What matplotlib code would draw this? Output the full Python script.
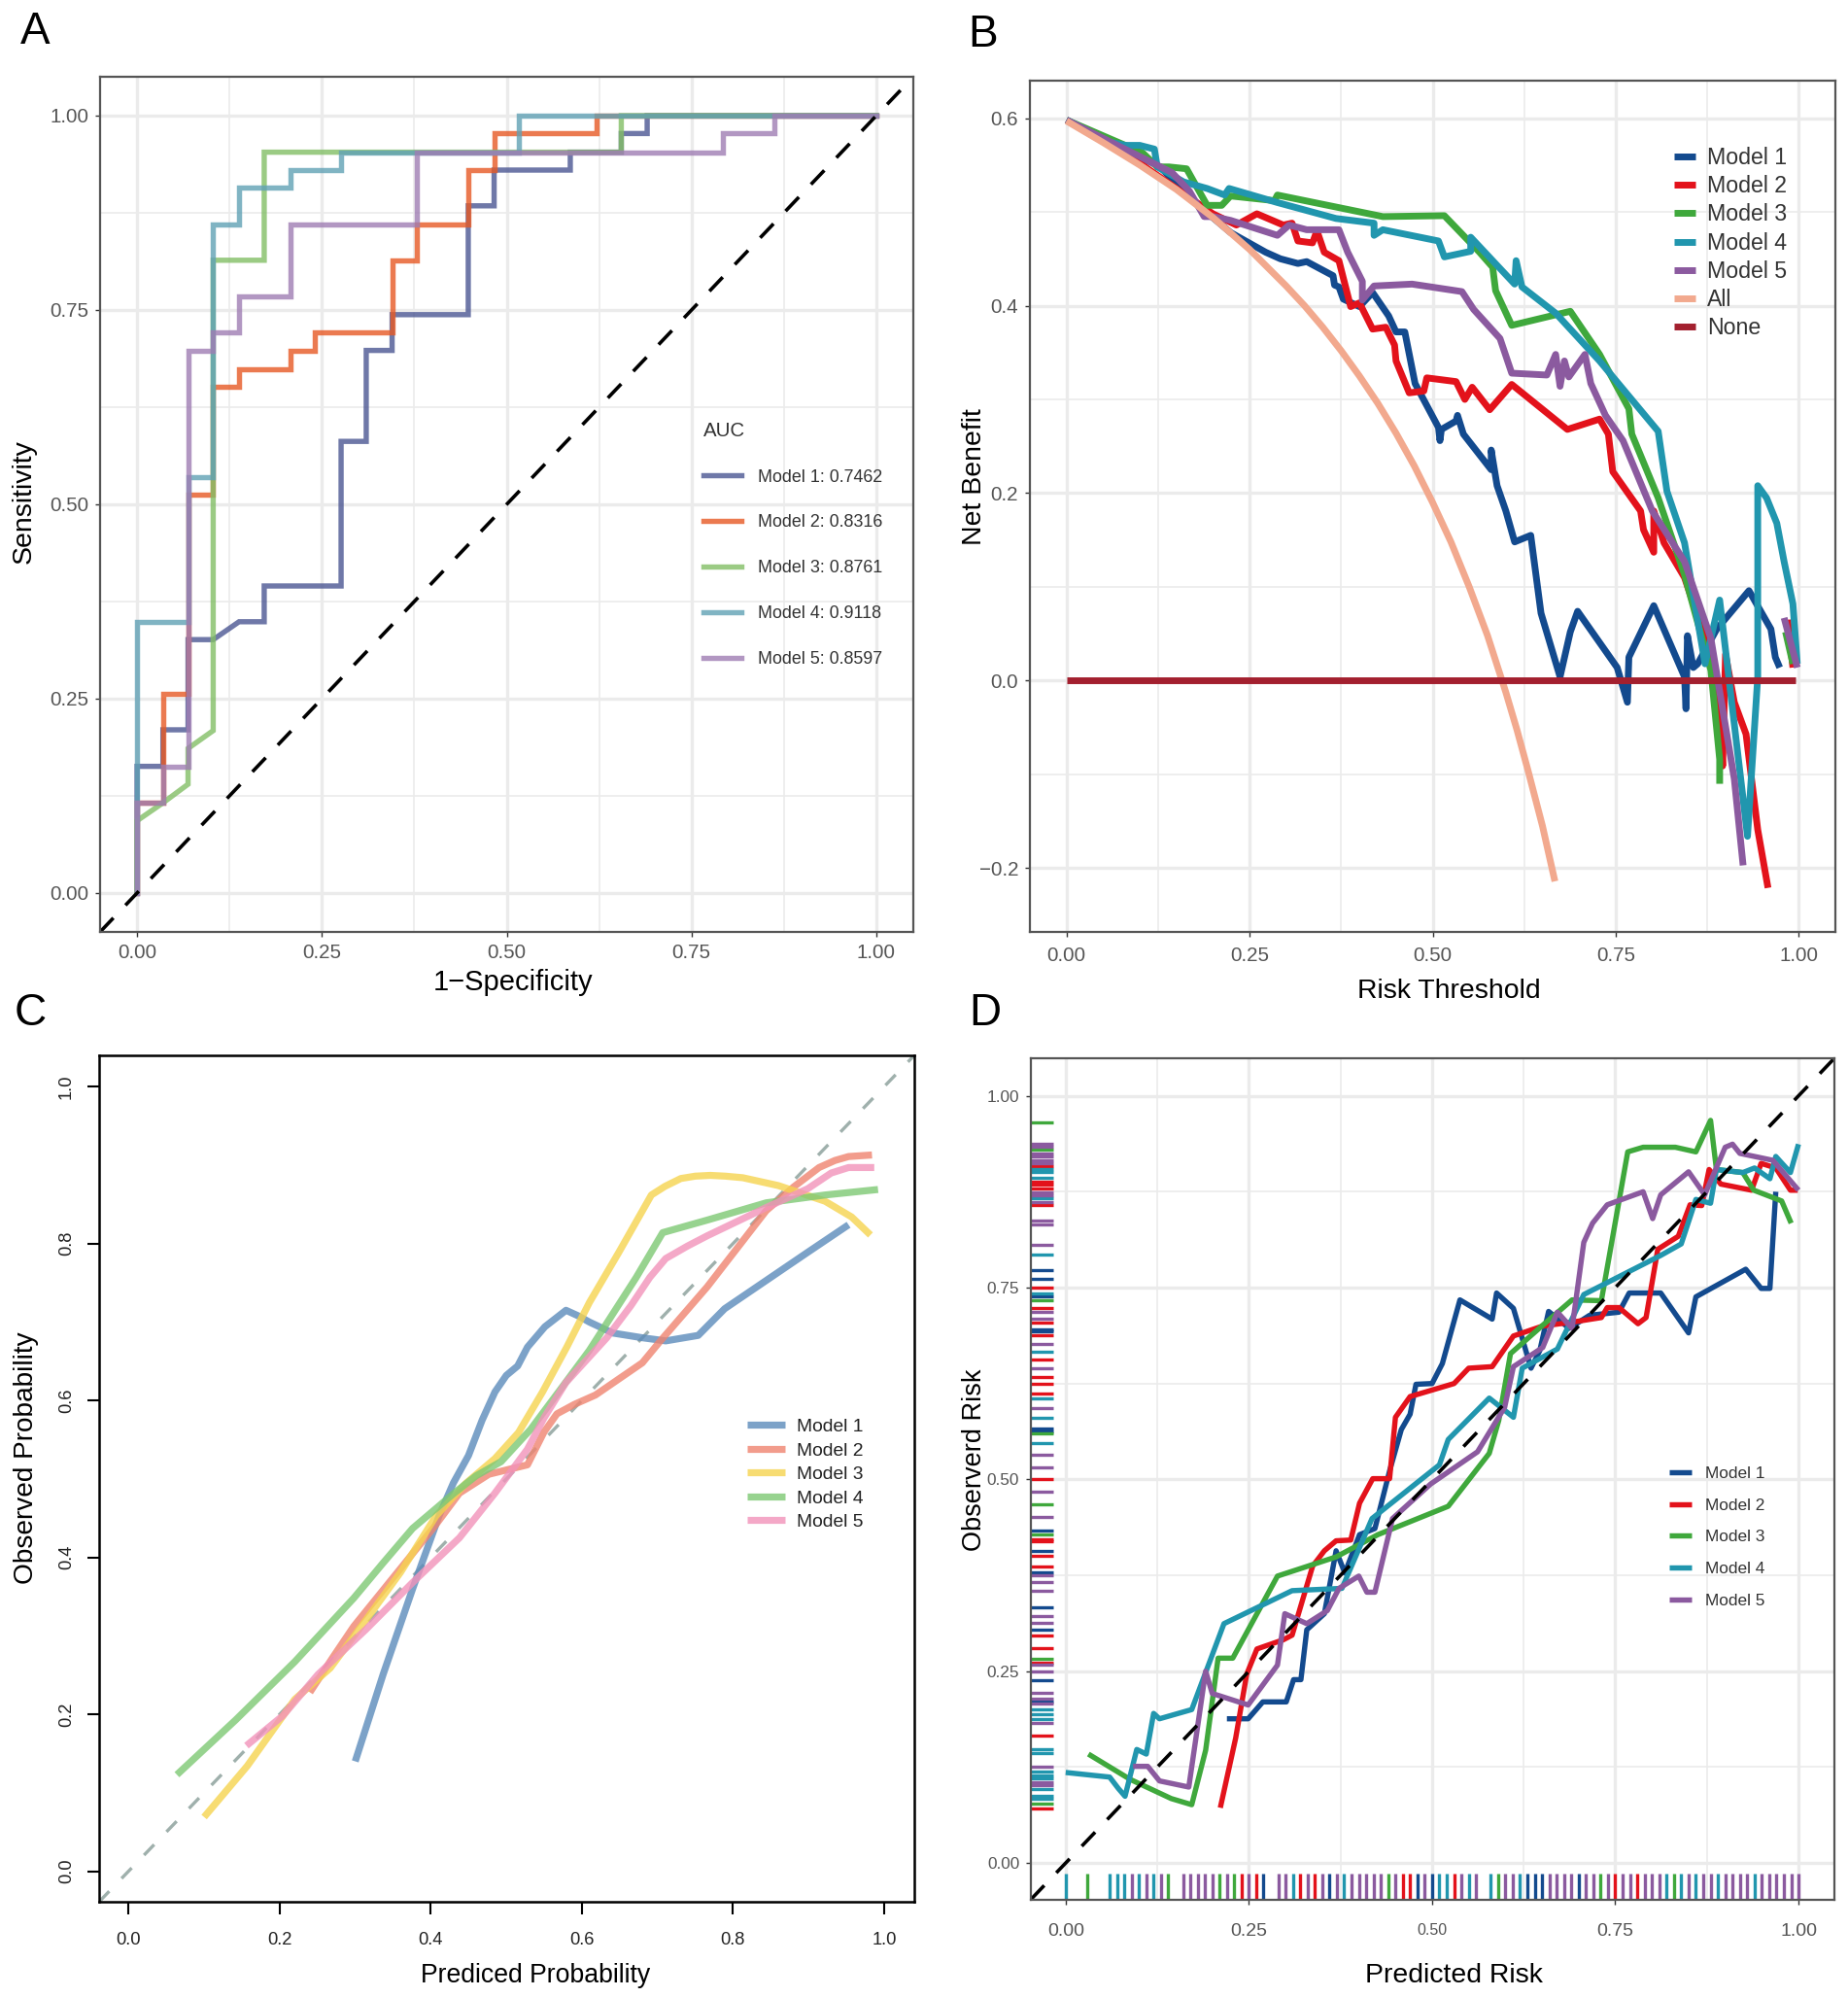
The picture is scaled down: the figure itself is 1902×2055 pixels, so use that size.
import numpy as np
import matplotlib
matplotlib.use("Agg")
import matplotlib.pyplot as plt
from matplotlib.ticker import FixedLocator

plt.rcParams['font.family'] = ['Liberation Sans', 'DejaVu Sans']

W, H = 1902, 2055
nan = float('nan')
models = ["Model 1", "Model 2", "Model 3", "Model 4", "Model 5"]

# panel A, ROC
roc_m1_x = [0, 0, 0.035, 0.035, 0.069, 0.069, 0.103, 0.138, 0.172, 0.172, 0.276, 0.276, 0.31, 0.31, 0.345, 0.345, 0.448, 0.448, 0.483, 0.483, 0.586, 0.586, 0.655, 0.655, 0.69, 0.69, 1]
roc_m1_y = [0, 0.163, 0.163, 0.21, 0.21, 0.326, 0.326, 0.349, 0.349, 0.395, 0.395, 0.581, 0.581, 0.698, 0.698, 0.744, 0.744, 0.884, 0.884, 0.93, 0.93, 0.953, 0.953, 0.977, 0.977, 1, 1]
roc_m2_x = [0, 0, 0.035, 0.035, 0.069, 0.069, 0.103, 0.103, 0.138, 0.138, 0.207, 0.207, 0.241, 0.241, 0.345, 0.345, 0.379, 0.379, 0.448, 0.448, 0.483, 0.483, 0.621, 0.621, 1]
roc_m2_y = [0, 0.116, 0.116, 0.256, 0.256, 0.512, 0.512, 0.651, 0.651, 0.674, 0.674, 0.698, 0.698, 0.721, 0.721, 0.814, 0.814, 0.86, 0.86, 0.93, 0.93, 0.977, 0.977, 1, 1]
roc_m3_x = [0, 0, 0.035, 0.069, 0.069, 0.103, 0.103, 0.172, 0.172, 0.655, 0.655, 1]
roc_m3_y = [0, 0.093, 0.116, 0.14, 0.186, 0.209, 0.814, 0.814, 0.953, 0.953, 1, 1]
roc_m4_x = [0, 0, 0.069, 0.069, 0.103, 0.103, 0.138, 0.138, 0.207, 0.207, 0.276, 0.276, 0.517, 0.517, 1]
roc_m4_y = [0, 0.349, 0.349, 0.535, 0.535, 0.86, 0.86, 0.907, 0.907, 0.93, 0.93, 0.953, 0.953, 1, 1]
roc_m5_x = [0, 0, 0.035, 0.035, 0.069, 0.069, 0.103, 0.103, 0.138, 0.138, 0.207, 0.207, 0.379, 0.379, 0.793, 0.793, 0.862, 0.862, 1]
roc_m5_y = [0, 0.116, 0.116, 0.163, 0.163, 0.698, 0.698, 0.721, 0.721, 0.767, 0.767, 0.86, 0.86, 0.953, 0.953, 0.977, 0.977, 1, 1]
auc = ["0.7462", "0.8316", "0.8761", "0.9118", "0.8597"]

# panel B, decision curve
dca_m1_x = [0, .128, .168, .224, .272, .292, .316, .328, .364, .366, .372, .378, .40, .418, .44, .45, .462, .476, .508, .51, .512, .532, .534, .542, .58, .58, .588, .60, .612, .634, .648, .674, .688, .698, .752, .766, .768, .802, .844, .846, .848, .856, .862, .888, .932, .962, .968, .974]
dca_m1_y = [.598, .548, .515, .478, .457, .45, .445, .447, .432, .422, .42, .407, .399, .414, .389, .372, .372, .317, .27, .256, .268, .277, .283, .263, .225, .246, .208, .181, .148, .155, .072, .004, .052, .074, .014, -.023, .025, .08, .004, -.03, .048, .014, .018, .055, .096, .055, .025, .014]
dca_m2_x = [0, .10, .20, .232, .26, .296, .308, .316, .336, .342, .352, .372, .388, .40, .418, .436, .448, .45, .468, .488, .492, .532, .544, .554, .578, .608, .684, .728, .74, .746, .784, .788, .802, .802, .816, .844, .872, .892, .896, .90, .912, .928, .944, .958, nan, .985, .992]
dca_m2_y = [.598, .552, .498, .486, .498, .486, .488, .469, .467, .48, .457, .448, .399, .403, .375, .377, .358, .341, .307, .309, .323, .319, .30, .313, .289, .316, .268, .279, .263, .223, .181, .161, .137, .181, .147, .11, .045, -.023, -.091, .028, -.023, -.057, -.159, -.221, nan, .065, .014]
dca_m3_x = [0, .104, .124, .14, .164, .192, .212, .224, .284, .288, .432, .516, .564, .582, .586, .608, .688, .728, .768, .772, .808, .844, .88, .892, .892, nan, .982, .992]
dca_m3_y = [.598, .563, .548, .548, .546, .507, .507, .517, .512, .518, .495, .496, .457, .441, .416, .379, .394, .348, .29, .263, .195, .113, .011, -.084, -.11, nan, .052, .018]
dca_m4_x = [0, .056, .08, .10, .12, .124, .16, .192, .216, .222, .288, .368, .42, .42, .432, .508, .516, .552, .552, .612, .614, .622, .668, .728, .808, .82, .844, .872, .892, .93, .944, .944, .956, .97, .98, .992, .998]
dca_m4_y = [.598, .575, .571, .571, .567, .548, .532, .525, .518, .525, .51, .493, .488, .475, .481, .469, .452, .458, .473, .423, .448, .42, .392, .341, .266, .202, .147, .018, .086, -.166, .004, .208, .195, .168, .127, .082, .018]
dca_m5_x = [0, .144, .168, .188, .20, .224, .288, .304, .328, .372, .384, .404, .404, .42, .472, .54, .556, .592, .608, .656, .668, .674, .68, .686, .708, .716, .736, .76, .80, .844, .88, .912, .924, nan, .98, .998]
dca_m5_y = [.598, .542, .522, .495, .495, .491, .475, .486, .481, .481, .457, .426, .406, .421, .423, .415, .396, .365, .328, .326, .348, .314, .341, .324, .348, .317, .283, .256, .181, .127, .045, -.105, -.197, nan, .067, .014]
dca_all_x = [0, .05, .10, .15, .20, .25, .30, .325, .35, .375, .40, .425, .45, .475, .50, .525, .55, .575, .60, .615, .63, .65, .667]
dca_all_y = [.597, .574, .55, .524, .494, .46, .421, .40, .377, .352, .325, .296, .264, .229, .19, .148, .10, .048, -.0125, -.052, -.095, -.155, -.214]
dca_none_x = [0, .996]
dca_none_y = [0, 0]

# panel C, smooth calibration
cal_m1_x = [.30, .337, .376, .411, .43, .45, .468, .485, .50, .515, .528, .551, .579, .595, .61, .641, .68, .711, .754, .789, .844, .899, .953]
cal_m1_y = [.14, .251, .36, .453, .495, .53, .575, .611, .632, .644, .668, .694, .715, .708, .70, .686, .68, .676, .683, .717, .753, .789, .824]
cal_m2_x = [.24, .27, .298, .345, .403, .438, .477, .528, .55, .567, .59, .618, .68, .704, .766, .844, .88, .914, .935, .953, .984]
cal_m2_y = [.228, .272, .312, .368, .437, .482, .506, .518, .56, .583, .595, .607, .648, .676, .745, .842, .872, .897, .906, .911, .913]
cal_m3_x = [.10, .157, .22, .267, .314, .36, .407, .446, .485, .516, .548, .58, .61, .649, .692, .71, .731, .75, .77, .79, .813, .86, .922, .957, .982]
cal_m3_y = [.069, .134, .219, .259, .32, .381, .453, .494, .526, .559, .611, .668, .725, .789, .862, .873, .883, .886, .887, .886, .884, .874, .854, .834, .811]
cal_m4_x = [.064, .142, .22, .298, .337, .376, .431, .46, .493, .532, .57, .61, .672, .707, .766, .844, .922, .992]
cal_m4_y = [.123, .193, .267, .348, .393, .437, .482, .504, .522, .563, .612, .664, .757, .814, .83, .852, .862, .869]
cal_m5_x = [.156, .204, .251, .314, .376, .438, .485, .528, .55, .579, .633, .665, .69, .711, .74, .766, .844, .899, .93, .953, .987]
cal_m5_y = [.16, .198, .251, .308, .368, .425, .482, .538, .578, .623, .68, .721, .757, .781, .797, .81, .846, .87, .89, .897, .897]

# panel D, binned calibration
risk_m1_x = [.22, .249, .269, .301, .311, .321, .329, .353, .369, .381, .401, .422, .442, .458, .47, .478, .50, .514, .538, .582, .588, .611, .635, .647, .659, .687, .715, .755, .769, .812, .85, .86, .928, .949, .961, .969]
risk_m1_y = [.188, .188, .21, .21, .239, .239, .304, .325, .407, .378, .428, .436, .511, .565, .585, .624, .625, .651, .734, .709, .743, .723, .645, .668, .719, .697, .714, .718, .743, .743, .691, .738, .774, .749, .749, .875]
risk_m2_x = [.211, .232, .247, .261, .297, .309, .337, .353, .369, .389, .401, .419, .442, .45, .47, .53, .55, .582, .611, .651, .691, .731, .739, .755, .781, .792, .808, .836, .852, .868, .878, .894, .936, .949, .969, .989, .999]
risk_m2_y = [.072, .163, .246, .279, .291, .297, .387, .407, .42, .421, .469, .501, .501, .581, .608, .625, .645, .647, .687, .70, .705, .711, .724, .724, .703, .711, .80, .817, .858, .857, .904, .885, .877, .912, .906, .877, .877]
risk_m3_x = [.031, .088, .144, .172, .191, .208, .228, .289, .369, .426, .522, .578, .591, .607, .651, .691, .731, .767, .788, .832, .86, .88, .888, .924, .939, .977, .99]
risk_m3_y = [.142, .109, .084, .076, .147, .267, .267, .374, .399, .428, .465, .534, .577, .664, .701, .734, .733, .927, .933, .933, .927, .968, .904, .90, .877, .863, .834]
risk_m4_x = [0, .06, .072, .081, .097, .11, .12, .128, .172, .216, .309, .377, .418, .51, .522, .578, .611, .623, .671, .707, .812, .84, .86, .88, .888, .924, .94, .961, .969, .989, 1.0]
risk_m4_y = [.118, .112, .097, .087, .148, .142, .195, .188, .20, .312, .355, .358, .449, .519, .552, .606, .581, .645, .67, .741, .792, .807, .865, .86, .904, .90, .906, .892, .921, .90, .937]
risk_m5_x = [.092, .112, .128, .168, .191, .20, .249, .289, .299, .329, .357, .373, .40, .411, .422, .446, .498, .562, .599, .611, .651, .671, .691, .707, .719, .739, .788, .801, .812, .85, .872, .90, .91, .92, .965, 1.0]
risk_m5_y = [.126, .126, .107, .099, .25, .221, .206, .258, .325, .312, .329, .358, .374, .353, .353, .449, .494, .536, .594, .647, .672, .718, .697, .809, .834, .858, .875, .84, .871, .901, .871, .933, .937, .925, .916, .877]

# rugs along the bottom of panel D
rug_x_m1 = [.27, .36, .48, .50, .63, .64, .65, .70]
rug_x_m2 = [.24, .26, .32, .34, .46, .47, .53, .75, .78]
rug_x_m3 = [.03, .14, .21, .23, .44, .59, .73, .83]
rug_x_m4 = [0, .06, .07, .08, .10, .12, .31, .38, .51, .52, .55, .58, .62, .82, .84, .86, .89, .94]
rug_x_m5 = [.09, .11, .13, .16, .17, .18, .19, .20, .22, .25, .29, .30, .33, .35, .37, .39, .40, .41, .42, .43, .45, .49, .54, .56, .60, .61, .66, .67, .68, .69, .71, .72, .74, .76, .77, .79, .80, .81, .85, .87, .88, .90, .91, .92, .93, .95, .96, .97, .98, .99, 1.0]
# rugs along the left of panel D
rug_y_m1 = [.7725, .762, .739, .696, .693, .566, .563, .433, .407, .3795, .3335, .3044, .2377, .2107]
rug_y_m2 = [.909, .888, .884, .879, .8574, .75, .724, .704, .688, .656, .634, .625, .6126, .50, .4225, .419, .3998, .387, .2963, .28, .261, .1667, .0714]
rug_y_m3 = [.966, .93, .734, .56, .468, .428, .266, .0773]
rug_y_m4 = [.905, .9005, .893, .866, .793, .742, .667, .606, .58, .548, .20, .194, .188, .148, .143, .1186, .1144, .11, .0967, .0878, .084]
rug_y_m5 = [.938, .9334, .925, .921, .9165, .912, .874, .87, .862, .838, .833, .806, .719, .71, .677, .6455, .5936, .532, .516, .484, .4517, .375, .366, .355, .3217, .3124, .258, .25, .222, .2144, .2073, .182, .1254, .105, .1009]

roc_colors = ['#4b5692', '#e75924', '#82be66', '#60a1b5', '#9f7db3']
dca_colors = ['#134a8e', '#e3121b', '#3fa83c', '#2196ae', '#8b5a9f']
cal_colors = ['#5b8bbb', '#ef836f', '#f6d44f', '#7dc873', '#f292ba']
all_color = '#f2a98e'
none_color = '#a3202f'
spine_gray = '#555555'
tick_gray = '#555555'


def make_ax(x0, y0, x1, y1):
    # pixel box of the panel, top-left origin
    return fig.add_axes([x0 / W, 1 - y1 / H, (x1 - x0) / W, (y1 - y0) / H])


def ptext(x, y, s, **kw):
    fig.text(x / W, 1 - y / H, s, ha='center', va='center', **kw)


def gg_style(ax, xmaj, ymaj, xmin, ymin):
    ax.set_xticks(xmaj)
    ax.set_yticks(ymaj)
    ax.xaxis.set_minor_locator(FixedLocator(xmin))
    ax.yaxis.set_minor_locator(FixedLocator(ymin))
    ax.grid(which='major', color='#ebebeb', lw=2.4)
    ax.grid(which='minor', color='#ebebeb', lw=1.2)
    ax.set_axisbelow(True)
    ax.tick_params(which='minor', length=0)
    ax.tick_params(which='major', length=3.5, width=1, color='#333333', labelcolor=tick_gray, labelsize=14.8, pad=5)
    for s in ax.spines.values():
        s.set_color(spine_gray)
        s.set_linewidth(1.6)


fig = plt.figure(figsize=(W / 100, H / 100), dpi=100)
quarters = [0, 0.25, 0.5, 0.75, 1]
quarter_lab = ["0.00", "0.25", "0.50", "0.75", "1.00"]
eighths = [0.125, 0.375, 0.625, 0.875]

# A
ax = make_ax(103, 79, 940, 959)
gg_style(ax, quarters, quarters, eighths, eighths)
ax.set_xticklabels(quarter_lab)
ax.set_yticklabels(quarter_lab)
roc_x = [roc_m1_x, roc_m2_x, roc_m3_x, roc_m4_x, roc_m5_x]
roc_y = [roc_m1_y, roc_m2_y, roc_m3_y, roc_m4_y, roc_m5_y]
for i in range(5):
    ax.plot(roc_x[i], roc_y[i], color=roc_colors[i], lw=3.9, alpha=0.8, solid_joinstyle='miter',
            label=models[i] + ": " + auc[i])
ax.axline((0, 0), slope=1, color='black', lw=2.6, ls=(0, (5.5, 5)))
ax.set_xlim(-0.05, 1.05)
ax.set_ylim(-0.05, 1.05)
leg = ax.legend(title="AUC", frameon=False, loc='upper left', bbox_to_anchor=(0.742, 0.597), fontsize=12.9,
                labelspacing=1.67, handlelength=2.2, handletextpad=0.9, title_fontsize=14.7, alignment='left',
                borderpad=0, borderaxespad=0)
leg.get_title().set_color('#333333')
for t in leg.get_texts():
    t.set_color('#333333')
ptext(528, 1011, "1\u2212Specificity", fontsize=21)
ptext(25, 516, "Sensitivity", fontsize=20.5, rotation=90)
ptext(36, 33, "A", fontsize=33)

# B
ax = make_ax(1060, 83, 1889, 959)
gg_style(ax, quarters, [-0.2, 0, 0.2, 0.4, 0.6], eighths, [-0.1, 0.1, 0.3, 0.5])
ax.set_xticklabels(quarter_lab)
ax.set_yticklabels(["\u22120.2", "0.0", "0.2", "0.4", "0.6"])
ax.tick_params(axis='x', pad=7)
dca_x = [dca_m1_x, dca_m2_x, dca_m3_x, dca_m4_x, dca_m5_x]
dca_y = [dca_m1_y, dca_m2_y, dca_m3_y, dca_m4_y, dca_m5_y]
for i in range(5):
    ax.plot(dca_x[i], dca_y[i], color=dca_colors[i], lw=5, solid_capstyle='butt', label=models[i])
ax.plot(dca_all_x, dca_all_y, color=all_color, lw=5, solid_capstyle='butt', label="All")
ax.plot(dca_none_x, dca_none_y, color=none_color, lw=5, solid_capstyle='butt', label="None")
ax.set_xlim(-0.05, 1.05)
ax.set_ylim(-0.268, 0.64)
leg = ax.legend(frameon=False, loc='upper left', bbox_to_anchor=(0.80, 0.9225), fontsize=16.7,
                labelspacing=0.27, handlelength=0.95, handletextpad=0.5, borderpad=0, borderaxespad=0)
for t in leg.get_texts():
    t.set_color('#333333')
ptext(1491, 1020, "Risk Threshold", fontsize=20.4)
ptext(1003, 491, "Net Benefit", fontsize=20.4, rotation=90)
ptext(1012, 36, "B", fontsize=33)

# C
ax = make_ax(102, 1086, 941, 1957)
ax.axline((0, 0), slope=1, color='#9fb0ac', lw=2.4, ls=(0, (4.5, 5.5)))
cal_x = [cal_m1_x, cal_m2_x, cal_m3_x, cal_m4_x, cal_m5_x]
cal_y = [cal_m1_y, cal_m2_y, cal_m3_y, cal_m4_y, cal_m5_y]
for i in range(5):
    ax.plot(cal_x[i], cal_y[i], color=cal_colors[i], lw=5.2, alpha=0.8, solid_capstyle='butt', label=models[i])
ax.set_xlim(-0.039, 1.04)
ax.set_ylim(-0.039, 1.04)
ax.set_xticks([0, 0.2, 0.4, 0.6, 0.8, 1.0])
ax.set_yticks([0, 0.2, 0.4, 0.6, 0.8, 1.0])
ax.tick_params(length=9, width=1.5, labelsize=13.2, labelcolor='#222222')
ax.tick_params(axis='x', pad=13.5)
ax.tick_params(axis='y', pad=9)
plt.setp(ax.get_yticklabels(), rotation=90, va='center')
for s in ax.spines.values():
    s.set_linewidth(1.8)
leg = ax.legend(frameon=False, loc='upper left', bbox_to_anchor=(0.795, 0.571), fontsize=13.9,
                labelspacing=0.36, handlelength=2.0, handletextpad=0.62, borderpad=0, borderaxespad=0)
for t in leg.get_texts():
    t.set_color('#222222')
ptext(551, 2033, "Prediced Probability", fontsize=19.2)
ptext(27, 1500, "Observed Probability", fontsize=20.2, rotation=90)
ptext(31, 1043, "C", fontsize=33)

# D
ax = make_ax(1061, 1089, 1888, 1955)
gg_style(ax, quarters, quarters, eighths, eighths)
ax.set_xticklabels(quarter_lab)
ax.set_yticklabels(quarter_lab)
ax.tick_params(axis='x', labelsize=14, pad=13.5)
ax.tick_params(axis='y', labelsize=12.4)
ax.get_xticklabels()[2].set_fontsize(11.5)
risk_x = [risk_m1_x, risk_m2_x, risk_m3_x, risk_m4_x, risk_m5_x]
risk_y = [risk_m1_y, risk_m2_y, risk_m3_y, risk_m4_y, risk_m5_y]
rug_x = [rug_x_m1, rug_x_m2, rug_x_m3, rug_x_m4, rug_x_m5]
rug_y = [rug_y_m1, rug_y_m2, rug_y_m3, rug_y_m4, rug_y_m5]
for i in range(5):
    ax.vlines(rug_x[i], 0, 0.031, transform=ax.get_xaxis_transform(), color=dca_colors[i], lw=2.4)
    ax.hlines(rug_y[i], 0, 0.028, transform=ax.get_yaxis_transform(), color=dca_colors[i], lw=2.4)
for i in range(5):
    ax.plot(risk_x[i], risk_y[i], color=dca_colors[i], lw=3.9, solid_capstyle='butt', label=models[i])
ax.axline((0, 0), slope=1, color='black', lw=2.6, ls=(0, (5.5, 5)))
ax.set_xlim(-0.0475, 1.049)
ax.set_ylim(-0.048, 1.049)
leg = ax.legend(frameon=False, loc='upper left', bbox_to_anchor=(0.794, 0.515), fontsize=12.4,
                labelspacing=1.02, handlelength=1.35, handletextpad=0.8, borderpad=0, borderaxespad=0)
for t in leg.get_texts():
    t.set_color('#333333')
ptext(1496, 2033, "Predicted Risk", fontsize=20.4)
ptext(1003, 1502, "Observerd Risk", fontsize=19.5, rotation=90)
ptext(1014, 1043, "D", fontsize=33)

fig.savefig("out.png", dpi=100)
